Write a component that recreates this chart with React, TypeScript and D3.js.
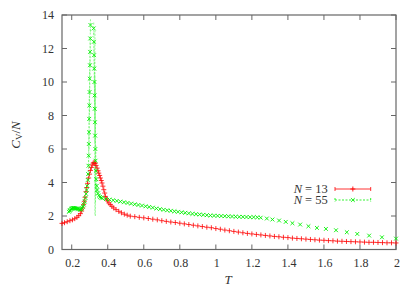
import React from "react";
import * as d3 from "d3";

const xTicks = [0.2, 0.4, 0.6, 0.8, 1, 1.2, 1.4, 1.6, 1.8, 2];
const yTicks = [0, 2, 4, 6, 8, 10, 12, 14];
const seriesNames = ["13", "55"];
const seriesColors = ["#ff0000", "#00f000"];

// N = 13 : [T, Cv/N]
const n13: [number, number][] = [
  [0.146, 1.56], [0.16, 1.6], [0.175, 1.66], [0.19, 1.72], [0.204, 1.77],
  [0.217, 1.84], [0.229, 1.92], [0.239, 2.02], [0.248, 2.14], [0.255, 2.3],
  [0.261, 2.48], [0.266, 2.68], [0.27, 2.88], [0.274, 3.12], [0.279, 3.45],
  [0.283, 3.7], [0.288, 3.95], [0.294, 4.27], [0.299, 4.5], [0.304, 4.72],
  [0.309, 4.9], [0.314, 5.05], [0.319, 5.16], [0.324, 5.2], [0.33, 5.14],
  [0.335, 5.02], [0.341, 4.86], [0.346, 4.7], [0.35, 4.56], [0.355, 4.42],
  [0.359, 4.27], [0.364, 4.12], [0.368, 3.97], [0.373, 3.78], [0.378, 3.57],
  [0.383, 3.37], [0.387, 3.17], [0.393, 3.02], [0.399, 2.9], [0.406, 2.78],
  [0.414, 2.68], [0.423, 2.58], [0.433, 2.48], [0.446, 2.38], [0.461, 2.28],
  [0.476, 2.19], [0.492, 2.11], [0.508, 2.05], [0.525, 1.99], [0.55, 1.96],
  [0.575, 1.92], [0.6, 1.89], [0.625, 1.85], [0.65, 1.81], [0.675, 1.77],
  [0.7, 1.72], [0.725, 1.68], [0.75, 1.64], [0.775, 1.61], [0.8, 1.57],
  [0.825, 1.53], [0.85, 1.49], [0.875, 1.45], [0.9, 1.41], [0.925, 1.37],
  [0.95, 1.33], [0.975, 1.3], [1.0, 1.25], [1.025, 1.21], [1.05, 1.16],
  [1.075, 1.12], [1.1, 1.08], [1.125, 1.04], [1.15, 1.0], [1.175, 0.96],
  [1.2, 0.93], [1.225, 0.9], [1.25, 0.87], [1.275, 0.84], [1.3, 0.81],
  [1.325, 0.78], [1.35, 0.76], [1.375, 0.73], [1.4, 0.71], [1.425, 0.68],
  [1.45, 0.66], [1.475, 0.64], [1.5, 0.62], [1.525, 0.6], [1.55, 0.58],
  [1.575, 0.56], [1.6, 0.55], [1.625, 0.53], [1.65, 0.52], [1.675, 0.5],
  [1.7, 0.49], [1.725, 0.48], [1.75, 0.47], [1.775, 0.46], [1.8, 0.45],
  [1.825, 0.44], [1.85, 0.43], [1.875, 0.43], [1.9, 0.42], [1.925, 0.41],
  [1.95, 0.4], [1.975, 0.4], [2.0, 0.39],
];

// N = 55 : [T, Cv/N, error]
const n55: [number, number, number][] = [
  [0.185, 2.25, 0], [0.188, 2.32, 0], [0.192, 2.36, 0], [0.196, 2.4, 0],
  [0.2, 2.44, 0], [0.204, 2.47, 0], [0.208, 2.48, 0], [0.212, 2.48, 0],
  [0.217, 2.47, 0], [0.222, 2.45, 0], [0.227, 2.44, 0], [0.232, 2.43, 0],
  [0.237, 2.42, 0], [0.242, 2.4, 0], [0.247, 2.38, 0], [0.252, 2.4, 0],
  [0.257, 2.47, 0], [0.262, 2.56, 0], [0.267, 2.68, 0], [0.272, 2.86, 0],
  [0.276, 3.08, 0], [0.28, 3.32, 0], [0.283, 3.55, 0], [0.286, 3.8, 0],
  [0.289, 4.15, 0.2], [0.291, 4.5, 0.3], [0.293, 5.0, 0.4],
  [0.294, 5.6, 0.6], [0.295, 6.3, 0.8], [0.296, 7.0, 1.0], [0.297, 7.8, 1.2],
  [0.298, 8.6, 1.0], [0.299, 9.4, 1.2], [0.3, 10.2, 1.0], [0.301, 11.0, 0.8],
  [0.302, 11.8, 0.8], [0.303, 12.6, 0.6], [0.304, 13.4, 0.4],
  [0.322, 13.2, 0.4], [0.323, 12.4, 0.6], [0.324, 11.6, 0.8], [0.325, 10.8, 1.0],
  [0.326, 10.0, 1.2], [0.327, 9.2, 1.4], [0.328, 8.4, 2.0], [0.329, 7.6, 5.5],
  [0.33, 6.8, 3.0], [0.331, 6.0, 4.0], [0.332, 5.3, 2.5], [0.334, 4.7, 1.5],
  [0.336, 4.2, 0.8], [0.339, 3.8, 0.4], [0.342, 3.55, 0.2], [0.346, 3.35, 0],
  [0.351, 3.22, 0], [0.357, 3.14, 0], [0.363, 3.09, 0], [0.37, 3.06, 0],
  [0.39, 3.01, 0], [0.41, 2.98, 0], [0.43, 2.94, 0], [0.45, 2.9, 0],
  [0.47, 2.86, 0], [0.49, 2.82, 0], [0.51, 2.78, 0], [0.53, 2.74, 0],
  [0.55, 2.7, 0], [0.57, 2.66, 0], [0.59, 2.62, 0], [0.61, 2.58, 0],
  [0.63, 2.54, 0], [0.65, 2.5, 0], [0.67, 2.45, 0], [0.69, 2.41, 0],
  [0.71, 2.37, 0], [0.73, 2.34, 0], [0.75, 2.31, 0], [0.77, 2.28, 0],
  [0.79, 2.25, 0], [0.81, 2.22, 0], [0.83, 2.19, 0], [0.85, 2.16, 0],
  [0.87, 2.13, 0], [0.89, 2.11, 0], [0.91, 2.09, 0], [0.93, 2.07, 0],
  [0.95, 2.05, 0], [0.97, 2.03, 0], [0.99, 2.02, 0], [1.01, 2.01, 0],
  [1.03, 2.0, 0], [1.05, 1.99, 0], [1.07, 1.98, 0], [1.09, 1.97, 0],
  [1.11, 1.96, 0], [1.13, 1.95, 0], [1.15, 1.95, 0], [1.17, 1.94, 0],
  [1.19, 1.93, 0], [1.21, 1.93, 0], [1.23, 1.92, 0],
  [1.249, 1.9, 0], [1.283, 1.85, 0], [1.314, 1.79, 0], [1.351, 1.73, 0],
  [1.388, 1.65, 0], [1.425, 1.57, 0], [1.468, 1.49, 0], [1.514, 1.39, 0],
  [1.561, 1.29, 0], [1.611, 1.23, 0], [1.667, 1.15, 0], [1.727, 1.03, 0],
  [1.785, 0.93, 0], [1.851, 0.83, 0], [1.922, 0.73, 0], [2.0, 0.65, 0],
];

const serif: React.CSSProperties = { fontFamily: "Liberation Serif, DejaVu Serif, serif" };

function plus(cx: number, cy: number, r: number) {
  return `M${cx - r},${cy}h${2 * r}M${cx},${cy - r}v${2 * r}`;
}
function cross(cx: number, cy: number, r: number) {
  return `M${cx - r},${cy - r}l${2 * r},${2 * r}M${cx - r},${cy + r}l${2 * r},${-2 * r}`;
}

export default function App() {
  const width = 415;
  const height = 291;
  const x = d3.scaleLinear().domain([0.146, 2]).range([62, 396]);
  const y = d3.scaleLinear().domain([0, 14]).range([249.5, 15]);
  const [x0, x1] = x.range();
  const [y0, y1] = y.range();
  const tick = 5;
  const axisColor = "#666";

  const redPath = n13.map((d) => plus(x(d[0]), y(d[1]), 2.5)).join("");
  const greenPath = n55.map((d) => cross(x(d[0]), y(d[1]), 1.9)).join("");

  return (
    <svg
      width={width}
      height={height}
      style={{ position: "absolute", left: 0, top: 0, background: "#fff" }}
    >
      {/* frame */}
      <rect x={x0} y={y1} width={x1 - x0} height={y0 - y1} fill="none" stroke={axisColor} strokeWidth={1.2} />

      {/* x ticks */}
      {xTicks.map((t) => (
        <g key={"x" + t}>
          <line x1={x(t)} x2={x(t)} y1={y0} y2={y0 - tick} stroke={axisColor} />
          <line x1={x(t)} x2={x(t)} y1={y1} y2={y1 + tick} stroke={axisColor} />
          <text x={x(t) + 1} y={266.5} textAnchor="middle" fontSize={12} fill="#333" style={serif}>
            {String(t)}
          </text>
        </g>
      ))}

      {/* y ticks */}
      {yTicks.map((t) => (
        <g key={"y" + t}>
          <line x1={x0} x2={x0 + tick} y1={y(t)} y2={y(t)} stroke={axisColor} />
          <line x1={x1} x2={x1 - tick} y1={y(t)} y2={y(t)} stroke={axisColor} />
          <text x={54} y={y(t) + 4} textAnchor="end" fontSize={12} fill="#333" style={serif}>
            {t}
          </text>
        </g>
      ))}

      {/* axis titles */}
      <text x={228} y={284} textAnchor="middle" fontSize={13} fontStyle="italic" fill="#333" style={serif}>
        T
      </text>
      <text transform="translate(20,135) rotate(-90)" textAnchor="middle" fontSize={13} fill="#333" style={serif}>
        <tspan fontStyle="italic">C</tspan>
        <tspan fontSize={9} dy={2}>V</tspan>
        <tspan dy={-2}>/</tspan>
        <tspan fontStyle="italic">N</tspan>
      </text>

      {/* N = 55 error bars (dashed) */}
      <g stroke={seriesColors[1]} strokeWidth={0.7} strokeDasharray="2,1.5" opacity={0.6}>
        {n55
          .filter((d) => d[2] > 0)
          .map((d, i) => (
            <line key={i} x1={x(d[0])} x2={x(d[0])} y1={y(d[1] - d[2])} y2={y(d[1] + d[2])} />
          ))}
      </g>

      {/* points */}
      <path d={redPath} stroke={seriesColors[0]} strokeWidth={0.8} fill="none" />
      <path d={greenPath} stroke={seriesColors[1]} strokeWidth={0.9} fill="none" />

      {/* legend */}
      {seriesNames.map((n, i) => {
        const ly = 189 + i * 11;
        const lx0 = 335;
        const lx1 = 370.7;
        const mid = (lx0 + lx1) / 2;
        return (
          <g key={n}>
            <text x={302} y={ly + 4} textAnchor="end" fontSize={12.5} fontStyle="italic" fill="#333" style={serif}>
              N
            </text>
            <text x={327.7} y={ly + 4} textAnchor="end" fontSize={12.5} fill="#333" style={serif}>
              {"= " + n}
            </text>
            <g stroke={seriesColors[i]} strokeWidth={0.8} strokeDasharray={i === 1 ? "2,1.5" : undefined}>
              <line x1={lx0} x2={lx1} y1={ly} y2={ly} />
              <line x1={lx0} x2={lx0} y1={ly - 2} y2={ly + 2} />
              <line x1={lx1} x2={lx1} y1={ly - 2} y2={ly + 2} />
            </g>
            <path
              d={i === 0 ? plus(mid, ly, 2.5) : cross(mid, ly, 1.9)}
              stroke={seriesColors[i]}
              strokeWidth={0.9}
              fill="none"
            />
          </g>
        );
      })}
    </svg>
  );
}
